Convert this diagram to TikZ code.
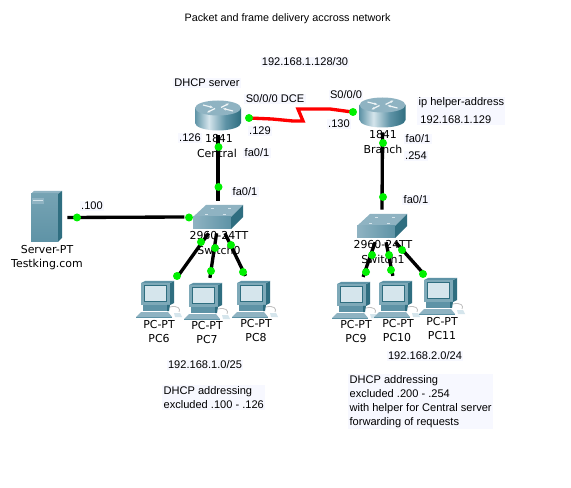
\documentclass[tikz,border=0pt]{standalone}
\usepackage{fontspec}
\setmainfont{Liberation Sans}
\newfontfamily\devfont{DejaVu Sans}
\usetikzlibrary{arrows.meta}

\definecolor{notebg}{HTML}{F7F8FF}
\definecolor{portgreen}{HTML}{00F000}
\definecolor{icontop}{HTML}{8FB3C2}
\definecolor{iconmid}{HTML}{5E93A6}
\definecolor{icondark}{HTML}{2F6E80}
\definecolor{iconpale}{HTML}{D5E5EC}
\pgfdeclarehorizontalshading{routerbody}{100bp}{color(0bp)=(iconmid); color(25bp)=(iconmid); color(40bp)=(iconpale); color(58bp)=(iconmid); color(75bp)=(icondark); color(100bp)=(icondark)}

\tikzset{
    lab/.style={inner sep=0pt, font=\devfont\fontsize{8.2}{10.5}\selectfont},
    note/.style={inner sep=1pt, fill=notebg, align=left, font=\fontsize{8.3}{10.5}\selectfont},
    devbox/.style={inner sep=0pt, minimum width=#1},
    port/.style={circle, fill=portgreen, inner sep=0pt, minimum size=6pt},
    link/.style={line width=2.5pt},
    serial/.style={line width=2.5pt, red},
    pics/router/.style={code={
        \shade[shading=routerbody]
            (-23,0) -- (-23,15) arc[start angle=180, end angle=0, x radius=23, y radius=7.5] -- (23,0) -- cycle;
        \fill[icontop] (0,0) ellipse[x radius=23, y radius=7.5];
        \draw[white!85!icontop, line width=0.9pt, -{Stealth[length=2.5pt]}] (-15,-3) -- (-5,-0.5);
        \draw[white!85!icontop, line width=0.9pt, -{Stealth[length=2.5pt]}] (15,3) -- (5,0.5);
        \draw[white!85!icontop, line width=0.9pt, -{Stealth[length=2.5pt]}] (3,-0.5) -- (11,-4.5);
        \draw[white!85!icontop, line width=0.9pt, -{Stealth[length=2.5pt]}] (-3,0.5) -- (-11,4.5);
    }},
    pics/swbox/.style={code={
        \fill[icontop] (0,0) -- (13,-12) -- (50,-12) -- (38,0) -- cycle;
        \shade[left color=icontop, right color=iconmid] (0,0) rectangle (38,12);
        \fill[icondark] (38,0) -- (50,-12) -- (50,0) -- (38,12) -- cycle;
        \fill[iconpale] (12,-3) rectangle (15,-2);
        \fill[iconpale] (30,-3) rectangle (33,-2);
        \fill[iconpale] (18,-9) rectangle (21,-8);
        \fill[iconpale] (35,-9) rectangle (38,-8);
    }},
    pics/pcbox/.style={code={
        \fill[icondark] (34,-12) -- (34,-34) -- (38,-36) -- (38,-14) -- cycle;
        \fill[iconmid] (5,-34) -- (9,-36) -- (38,-36) -- (34,-34) -- cycle;
        \fill[iconmid!80] (5,-34) rectangle (34,-12);
        \fill[iconpale] (8.5,-31.5) rectangle (30.5,-16);
        \draw[icondark, line width=0.5pt] (8.5,-31.5) rectangle (30.5,-16);
        \fill[iconmid] (7,-12) rectangle (31,-6);
        \fill[icondark] (31,-12) -- (34,-12) -- (33,-6) -- (31,-6) -- cycle;
        \fill[icontop] (5,-5) -- (32,-5) -- (36,0) -- (0,0) -- cycle;
        \fill[iconmid] (0,0) rectangle (36,0.8);
        \draw[gray!50, line width=0.6pt] (34,-10) .. controls (42,-12) and (45,-8) .. (43,-5);
        \fill[iconpale] (38,-4) -- (44,-4) -- (46,0) -- (39,0) -- cycle;
    }},
    pics/srvbox/.style={code={
        \fill[icontop] (31,194) -- (34,191) -- (62,191) -- (58,194) -- cycle;
        \shade[top color=iconmid!85, bottom color=iconmid] (31,194) rectangle (58,242);
        \fill[icondark] (58,194) -- (62,191) -- (62,238) -- (58,242) -- cycle;
        \fill[icontop] (32,198) rectangle (44,204);
        \draw[iconpale, line width=0.4pt] (33,200) -- (43,200);
    }}
}

\begin{document}
\begin{tikzpicture}[x=0.75pt, y=-0.75pt]
\useasboundingbox (0,0) rectangle (571,488);
\fill[white] (0,0) rectangle (571,488);

\node[devbox=46, minimum height=28] (central) at (218,116) {};
\node[devbox=45, minimum height=30] (branch) at (382.5,112) {};
\node[devbox=50, minimum height=24] (sw0) at (218,217) {};
\node[devbox=50, minimum height=24] (sw1) at (382,226) {};
\node[devbox=31, minimum height=48] (server) at (46.5,217.5) {};
\node[devbox=46, minimum height=35] (pc6) at (159,299.5) {};
\node[devbox=46, minimum height=35] (pc7) at (207,301.5) {};
\node[devbox=46, minimum height=35] (pc8) at (255,299.5) {};
\node[devbox=46, minimum height=35] (pc9) at (355,300.5) {};
\node[devbox=46, minimum height=35] (pc10) at (397,299.5) {};
\node[devbox=46, minimum height=35] (pc11) at (442,296.5) {};

\pic at (218,108) {router};
\pic at (382.5,105) {router};
\pic at (193,217) {swbox};
\pic at (357,226) {swbox};
\pic at (0,0) {srvbox};
\pic at (136,317) {pcbox};
\pic at (184,319) {pcbox};
\pic at (232,317) {pcbox};
\pic at (332,318) {pcbox};
\pic at (374,317) {pcbox};
\pic at (419,314) {pcbox};

\draw[serial] (central.east) -- (249,118) -- (272,119) -- (293,121) -- (303,121) -- (298,109) -- (330,109) -- (branch.west);
\draw[link] (central.south) -- (sw0.north);
\draw[link] (branch.south) -- (sw1.north);
\draw[link] (server.east) -- (sw0.west);
\draw[link] (sw0.-120) -- (pc6.51);
\draw[link] (sw0.-95) -- (pc7.83);
\draw[link] (sw0.-67) -- (pc8.112);
\draw[link] (sw1.-113) -- (pc9.71);
\draw[link] (sw1.-76) -- (pc10.100);
\draw[link] (sw1.-50) -- (pc11.129);

\node[note, fill=none, font=\fontsize{8.1}{10.5}\selectfont] (title) at (287.5,19) {Packet and frame delivery accross network};
\node[note] (wan) at (305,62) {192.168.1.128/30};
\node[note] (dhcpsrv) at (207,83) {DHCP server};
\node[note] (s0dce) at (275,99) {S0/0/0 DCE};
\node[note] (s0) at (346,95) {S0/0/0};
\node[note] (ip129) at (260,131) {.129};
\node[note] (ip130) at (339,124) {.130};
\node[note] (ip126) at (190,138) {.126};
\node[lab] (model0) at (219,139) {1841};
\node[lab] (name0) at (217,153) {Central};
\node[note] (fa0a) at (257,153) {fa0/1};
\node[note, anchor=west] (helper) at (417,111) {ip helper-address\\[3pt]\,192.168.1.129};
\node[lab] (model1) at (383,135) {1841};
\node[lab] (name1) at (383,149) {Branch};
\node[note] (fa1a) at (418,139) {fa0/1};
\node[note] (ip254) at (416,156) {.254};
\node[note] (fa0b) at (245,192) {fa0/1};
\node[note] (fa1b) at (416,200) {fa0/1};
\node[note] (ip100) at (92,206) {.100};

\node[lab] (srvtype) at (47,250) {Server-PT};
\node[lab] (srvname) at (47,264) {Testking.com};
\node[lab] (swtype0) at (219,236) {2960-24TT};
\node[lab] (swname0) at (219,250) {Switch0};
\node[lab] (swtype1) at (383,245) {2960-24TT};
\node[lab] (swname1) at (383,259) {Switch1};

\node[lab] (type6) at (159,325) {PC-PT};
\node[lab] (name6) at (159,339) {PC6};
\node[lab] (type7) at (207,326) {PC-PT};
\node[lab] (name7) at (207,340) {PC7};
\node[lab] (type8) at (256,324) {PC-PT};
\node[lab] (name8) at (256,338) {PC8};
\node[lab] (type9) at (356,325) {PC-PT};
\node[lab] (name9) at (356,339) {PC9};
\node[lab] (type10) at (398,324) {PC-PT};
\node[lab] (name10) at (397,338) {PC10};
\node[lab] (type11) at (442,322) {PC-PT};
\node[lab] (name11) at (442,336) {PC11};

\node[note] (lan0) at (205,365) {192.168.1.0/25};
\node[note] (lan1) at (425,356) {192.168.2.0/24};
\node[note, anchor=north west] (notea) at (162,385) {DHCP addressing\\excluded .100 - .126};
\node[note, anchor=north west] (noteb) at (348,374) {DHCP addressing\\excluded .200 - .254\\with helper for Central server\\forwarding of requests};

\node[port] (pa) at (249,118) {};
\node[port] (pb) at (353,112) {};
\node[port] (pc) at (218.5,147) {};
\node[port] (pd) at (218.5,187) {};
\node[port] (pe) at (383,143) {};
\node[port] (pf) at (383,197) {};
\node[port] (pg) at (77,217.5) {};
\node[port] (ph) at (189,217.5) {};
\node[port] (pi) at (201,242) {};
\node[port] (pj) at (215,248) {};
\node[port] (pk) at (231,245) {};
\node[port] (pl) at (177,276) {};
\node[port] (pm) at (211,271) {};
\node[port] (pn) at (243,272) {};
\node[port] (po) at (372,255) {};
\node[port] (pp) at (389,255) {};
\node[port] (pq) at (402,250) {};
\node[port] (pr) at (366,272) {};
\node[port] (ps) at (391,270) {};
\node[port] (pt) at (423,274) {};
\end{tikzpicture}
\end{document}
